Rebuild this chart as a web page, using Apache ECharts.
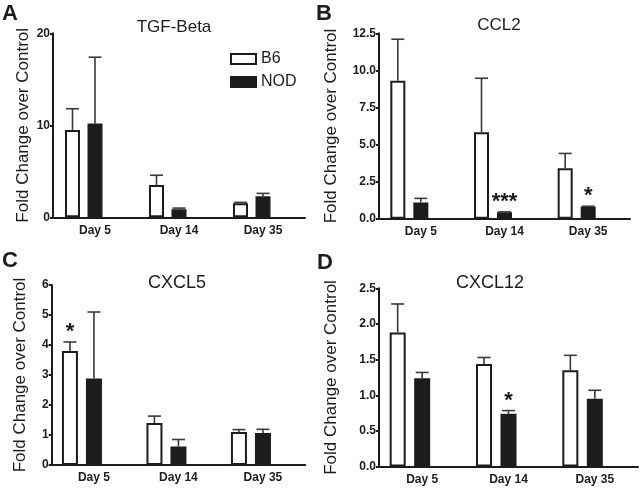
<!DOCTYPE html>
<html><head><meta charset="utf-8">
<script src="https://cdn.jsdelivr.net/npm/echarts@6/dist/echarts.min.js"></script>
<style>html,body{margin:0;padding:0;background:#fff}#c{width:640px;height:488px}</style>
</head><body><div id="c"></div>
<script>
// ---- data ----
const days = ['Day 5', 'Day 14', 'Day 35'];
const titles = ['TGF-Beta', 'CCL2', 'CXCL5', 'CXCL12'];
const letters = ['A', 'B', 'C', 'D'];
const yMax = [20, 12.5, 6, 2.5];
const yStep = [10, 2.5, 1, 0.5];
const yDecimals = [0, 1, 0, 1];

const tgfB6 = [9.5, 3.5, 1.52];
const tgfB6Err = [2.3, 1.07, 0.1];
const tgfNod = [10.2, 0.87, 2.3];
const tgfNodErr = [7.2, 0.13, 0.3];

const ccl2B6 = [9.3, 5.83, 3.4];
const ccl2B6Err = [2.8, 3.64, 1.0];
const ccl2Nod = [1.1, 0.43, 0.81];
const ccl2NodErr = [0.27, 0.03, 0.03];
const ccl2NodSig = ['', '***', '*'];

const cxcl5B6 = [3.8, 1.4, 1.1];
const cxcl5B6Err = [0.3, 0.23, 0.08];
const cxcl5B6Sig = ['*', '', ''];
const cxcl5Nod = [2.88, 0.62, 1.07];
const cxcl5NodErr = [2.22, 0.23, 0.12];

const cxcl12B6 = [1.88, 1.44, 1.35];
const cxcl12B6Err = [0.4, 0.09, 0.21];
const cxcl12Nod = [1.24, 0.74, 0.95];
const cxcl12NodErr = [0.08, 0.045, 0.12];
const cxcl12NodSig = ['', '*', ''];

const noSig = ['', '', ''];
const panelData = [
  {b6: tgfB6, b6Err: tgfB6Err, nod: tgfNod, nodErr: tgfNodErr, b6Sig: noSig, nodSig: noSig},
  {b6: ccl2B6, b6Err: ccl2B6Err, nod: ccl2Nod, nodErr: ccl2NodErr, b6Sig: noSig, nodSig: ccl2NodSig},
  {b6: cxcl5B6, b6Err: cxcl5B6Err, nod: cxcl5Nod, nodErr: cxcl5NodErr, b6Sig: cxcl5B6Sig, nodSig: noSig},
  {b6: cxcl12B6, b6Err: cxcl12B6Err, nod: cxcl12Nod, nodErr: cxcl12NodErr, b6Sig: noSig, nodSig: cxcl12NodSig}
];

// ---- layout / style ----
const FONT = '"Liberation Sans", Arial, Helvetica, sans-serif';
const INK = '#1c1c1c';
const layout = [
  {left: 53, top: 33.3, width: 252, height: 184, barW: 15, gap: 7.5, nameGap: 21, title: [174, 27, 17], letter: [2, 14]},
  {left: 379, top: 33.3, width: 251, height: 185.4, barW: 15, gap: 8, nameGap: 39, title: [499, 25, 17], letter: [316, 14]},
  {left: 51.7, top: 285, width: 253.5, height: 180, barW: 16, gap: 8, nameGap: 23, title: [177, 283, 18], letter: [2, 261]},
  {left: 379, top: 288.3, width: 259, height: 178.3, barW: 16, gap: 8.5, nameGap: 39, title: [490, 283, 18], letter: [317, 263]}
];

const grids = [], xAxes = [], yAxes = [], series = [], graphics = [];

function errRender(offset, cap, means, errs, sigs) {
  return function (params, api) {
    const i = params.dataIndex;
    const m = means[i], e = errs[i];
    const p0 = api.coord([i, m]);
    const p1 = api.coord([i, m + e]);
    const x = p0[0] + offset;
    const children = [
      {type: 'line', shape: {x1: x, y1: p0[1], x2: x, y2: p1[1]}, style: {stroke: '#3a3a3a', lineWidth: 1.6}},
      {type: 'line', shape: {x1: x - cap, y1: p1[1], x2: x + cap, y2: p1[1]}, style: {stroke: '#3a3a3a', lineWidth: 1.6}}
    ];
    if (sigs[i]) {
      children.push({type: 'text', style: {x: x, y: p1[1] + 1, text: sigs[i], font: 'bold 22px ' + FONT, fill: INK, textAlign: 'center', textVerticalAlign: 'bottom'}});
    }
    return {type: 'group', children: children};
  };
}

layout.forEach((L, k) => {
  const D = panelData[k];
  grids.push({left: L.left, top: L.top, width: L.width, height: L.height, containLabel: false});
  xAxes.push({
    type: 'category', gridIndex: k, data: days, boundaryGap: true,
    axisLine: {lineStyle: {color: INK, width: 2}},
    axisTick: {alignWithLabel: true, length: 5, lineStyle: {color: INK, width: 2}},
    axisLabel: {color: INK, fontFamily: FONT, fontWeight: 'bold', fontSize: 12, margin: 7}
  });
  yAxes.push({
    type: 'value', gridIndex: k, min: 0, max: yMax[k], interval: yStep[k],
    name: 'Fold Change over Control', nameLocation: 'middle', nameGap: L.nameGap, nameRotate: 90,
    nameTextStyle: {color: INK, fontFamily: FONT, fontSize: 17},
    axisLine: {show: true, lineStyle: {color: INK, width: 2}},
    axisTick: {show: true, length: 3, lineStyle: {color: INK, width: 2}},
    splitLine: {show: false},
    axisLabel: {color: INK, fontFamily: FONT, fontWeight: 'bold', fontSize: 12, margin: 3,
      formatter: v => v.toFixed(yDecimals[k])}
  });
  const gapPct = (L.gap / L.barW * 100).toFixed(1) + '%';
  series.push({
    name: 'B6', type: 'bar', xAxisIndex: k, yAxisIndex: k, data: D.b6, barWidth: L.barW, barGap: gapPct,
    itemStyle: {color: '#ffffff', borderColor: INK, borderWidth: 2}, z: 2, animation: false
  });
  series.push({
    name: 'NOD', type: 'bar', xAxisIndex: k, yAxisIndex: k, data: D.nod, barWidth: L.barW, barGap: gapPct,
    itemStyle: {color: INK, borderColor: INK, borderWidth: 2}, z: 2, animation: false
  });
  series.push({
    name: 'spacer', type: 'bar', xAxisIndex: k, yAxisIndex: k, data: [0, 0, 0], barWidth: L.barW, barGap: gapPct,
    itemStyle: {color: 'rgba(0,0,0,0)'}, silent: true, animation: false
  });
  const off = L.barW + L.gap;
  series.push({
    type: 'custom', xAxisIndex: k, yAxisIndex: k, z: 3, animation: false,
    data: days.map((d, i) => [i, D.b6[i] + D.b6Err[i]]),
    renderItem: errRender(-off, 6.5, D.b6, D.b6Err, D.b6Sig)
  });
  series.push({
    type: 'custom', xAxisIndex: k, yAxisIndex: k, z: 3, animation: false,
    data: days.map((d, i) => [i, D.nod[i] + D.nodErr[i]]),
    renderItem: errRender(0, 6.5, D.nod, D.nodErr, D.nodSig)
  });
  graphics.push({type: 'text', x: L.title[0], y: L.title[1], style: {text: titles[k], font: L.title[2] + 'px ' + FONT, fill: INK, textAlign: 'center', textVerticalAlign: 'middle'}});
  graphics.push({type: 'text', x: L.letter[0], y: L.letter[1], style: {text: letters[k], font: 'bold 22px ' + FONT, fill: INK, textAlign: 'left', textVerticalAlign: 'middle'}});
});

const chart = echarts.init(document.getElementById('c'), null, {renderer: 'canvas'});
chart.setOption({
  animation: false,
  backgroundColor: '#ffffff',
  textStyle: {fontFamily: FONT},
  grid: grids, xAxis: xAxes, yAxis: yAxes, series: series,
  legend: {
    data: [{name: 'B6', icon: 'rect'}, {name: 'NOD', icon: 'rect'}], orient: 'vertical', left: 230, top: 51, padding: 0,
    itemWidth: 25, itemHeight: 10, itemGap: 7,
    textStyle: {color: INK, fontFamily: FONT, fontSize: 16}, selectedMode: false
  },
  graphic: graphics
});
</script></body></html>
